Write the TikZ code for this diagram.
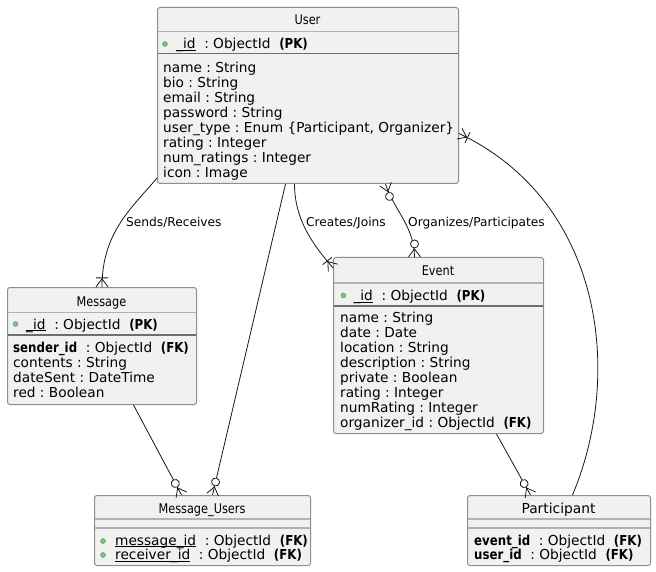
\documentclass[tikz,border=0pt]{standalone}
\usepackage{fontspec}
\setmainfont{DejaVu Sans}[BoldFeatures={FakeStretch=0.86}]
\newfontfamily\headfont[FakeStretch=0.85]{DejaVu Sans}
\usetikzlibrary{positioning,decorations.markings,calc}

\definecolor{boxfill}{HTML}{F1F1F1}
\definecolor{boxline}{HTML}{8E8E8E}
\definecolor{seplight}{HTML}{B2B2B2}
\definecolor{sepdark}{HTML}{6E6E6E}
\definecolor{pkgreen}{HTML}{84BE84}
\definecolor{pkedge}{HTML}{4E9A5E}
\definecolor{relcol}{HTML}{181818}

% underline that sits just under the baseline
\newcommand\idline[1]{\setbox0\hbox{#1}\rlap{\rule[-1.9pt]{\wd0}{0.8pt}}\box0}

\tikzset{
  ent/.style={draw=boxline, fill=boxfill, rounded corners=2.5pt, line width=1pt, inner sep=0pt, anchor=north west},
  head/.style={font=\headfont\fontsize{13.3}{15}\selectfont, inner sep=0pt, anchor=base},
  attr/.style={font=\frenchspacing\fontsize{13.7}{15}\selectfont, inner sep=0pt, anchor=base west},
  lbl/.style={font=\fontsize{12.2}{14}\selectfont, inner sep=0pt, anchor=base west},
  hsep/.style={seplight, line width=1.5pt},
  psep/.style={sepdark, line width=1.8pt},
  pkdot/.style={circle, fill=pkgreen, draw=pkedge, line width=0.4pt, inner sep=0pt, minimum size=5pt},
  rel/.style={relcol, line width=0.8pt},
  zeromany/.style={postaction={decorate,decoration={markings,mark=at position 0.999 with {
      \draw[relcol,line width=0.8pt] (-8pt,0pt) -- (0pt,6pt) (-8pt,0pt) -- (0pt,-6pt);
      \draw[relcol,line width=0.8pt,fill=white] (-13pt,0pt) circle (4pt);}}}},
  zeromanystart/.style={postaction={decorate,decoration={markings,mark=at position 0.001 with {
      \draw[relcol,line width=0.8pt] (8pt,0pt) -- (0pt,6pt) (8pt,0pt) -- (0pt,-6pt);
      \draw[relcol,line width=0.8pt,fill=white] (13pt,0pt) circle (4pt);}}}},
  onemany/.style={postaction={decorate,decoration={markings,mark=at position 0.999 with {
      \draw[relcol,line width=0.8pt] (-8pt,0pt) -- (0pt,6pt) (-8pt,0pt) -- (0pt,-6pt);
      \draw[relcol,line width=0.8pt] (-9pt,-6pt) -- (-9pt,6pt);}}}}
}

\begin{document}
\begin{tikzpicture}[x=1pt,y=-1pt]
\useasboundingbox (0,0) rectangle (656,572);

% entity boxes
\node[ent, minimum width=301pt, minimum height=176pt] (user) at (157,7) {};
\node[ent, minimum width=189pt, minimum height=117pt] (message) at (7,287) {};
\node[ent, minimum width=210pt, minimum height=176pt] (event) at (333,257) {};
\node[ent, minimum width=216pt, minimum height=70pt] (msgUsers) at (94,495) {};
\node[ent, minimum width=183pt, minimum height=70pt] (participant) at (467,495) {};

% User
\node[head] (userHead) at (307.5,25) {User};
\draw[hsep] (157.5,31.5) -- (457.5,31.5);
\node[pkdot] (userDot) at (165,44) {};
\node[attr] (userPk) at (176,49) {\idline{\_id}\ \ :\ ObjectId\ \ \textbf{(PK)}};
\draw[psep] (157.5,53.5) -- (457.5,53.5);
\foreach \t [count=\i] in {name : String, bio : String, email : String, password : String,
    {user\_type : Enum \{Participant, Organizer\}}, rating : Integer, num\_ratings : Integer, icon : Image}
  \node[attr] (userA\i) at (163, 58.1+14.9*\i) {\t};

% Message
\node[head] (messageHead) at (101.5,306) {Message};
\draw[hsep] (7.5,312.3) -- (195.5,312.3);
\node[pkdot] (messageDot) at (15.5,324) {};
\node[attr] (messagePk) at (26,329) {\idline{\_id}\ \ :\ ObjectId\ \ \textbf{(PK)}};
\draw[psep] (7.5,335) -- (195.5,335);
\foreach \t [count=\i] in {{\textbf{sender\_id}\ \ :\ ObjectId\ \ \textbf{(FK)}}, contents : String,
    dateSent : DateTime, red : Boolean}
  \node[attr] (messageA\i) at (13, 337.6+14.9*\i) {\t};

% Event
\node[head] (eventHead) at (438,276) {Event};
\draw[hsep] (333.5,283) -- (542.5,283);
\node[pkdot] (eventDot) at (343.3,295.5) {};
\node[attr] (eventPk) at (353.3,300.5) {\idline{\_id}\ \ :\ ObjectId\ \ \textbf{(PK)}};
\draw[psep] (333.5,306) -- (542.5,306);
\foreach \t [count=\i] in {name : String, date : Date, location : String, description : String,
    private : Boolean, rating : Integer, numRating : Integer, {organizer\_id : ObjectId\ \ \textbf{(FK)}}}
  \node[attr] (eventA\i) at (340, 307.8+14.9*\i) {\t};

% Message_Users
\node[head] (msgUsersHead) at (202,513) {Message\_Users};
\draw[hsep] (94.5,519) -- (309.5,519);
\draw[hsep] (94.5,528) -- (309.5,528);
\node[pkdot] (msgUsersDotA) at (103,541) {};
\node[pkdot] (msgUsersDotB) at (103,555) {};
\node[attr] (msgUsersA1) at (115,545) {\idline{message\_id}\ \ :\ ObjectId\ \ \textbf{(FK)}};
\node[attr] (msgUsersA2) at (115,559.5) {\idline{receiver\_id}\ \ :\ ObjectId\ \ \textbf{(FK)}};

% Participant
\node[head, font=\fontsize{13.8}{15}\selectfont] (participantHead) at (558.5,513) {Participant};
\draw[hsep] (467.5,519) -- (649.5,519);
\draw[hsep] (467.5,528) -- (649.5,528);
\node[attr] (participantA1) at (474,545) {\textbf{event\_id}\ \ :\ ObjectId\ \ \textbf{(FK)}};
\node[attr] (participantA2) at (474,559.5) {\textbf{user\_id}\ \ :\ ObjectId\ \ \textbf{(FK)}};

% relations
\draw[rel, onemany] ([yshift=6pt]user.south west) .. controls +(-25,30) and +(0,-55) .. (message.north);
\node[lbl] (sendsLbl) at (126,226.3) {Sends/Receives};

\draw[rel, zeromany] ([xshift=-22.5pt]user.south) -- ([xshift=10pt]msgUsers.north);
\draw[rel, zeromany] ([xshift=31.5pt]message.south) -- ([xshift=-21pt]msgUsers.north);

\draw[rel, onemany] ([xshift=-13.5pt]user.south) .. controls +(0,42) and +(-12,-15) .. ([yshift=-11pt]event.north west);
\node[lbl] (createsLbl) at (306,226.3) {Creates/Joins};

\draw[rel, zeromanystart, zeromany] ([xshift=77.5pt]user.south) .. controls +(8,25) and +(0,-30) .. ([xshift=-24pt]event.north);
\node[lbl] (organizesLbl) at (408,226.3) {Organizes/Participates};

\draw[rel, onemany] ([xshift=13.5pt]participant.north) .. controls (625,370) and (600,200) .. ([yshift=-38pt]user.east);
\draw[rel, zeromany] ([xshift=58pt]event.south) -- ([xshift=-28.5pt]participant.north);

\end{tikzpicture}
\end{document}
